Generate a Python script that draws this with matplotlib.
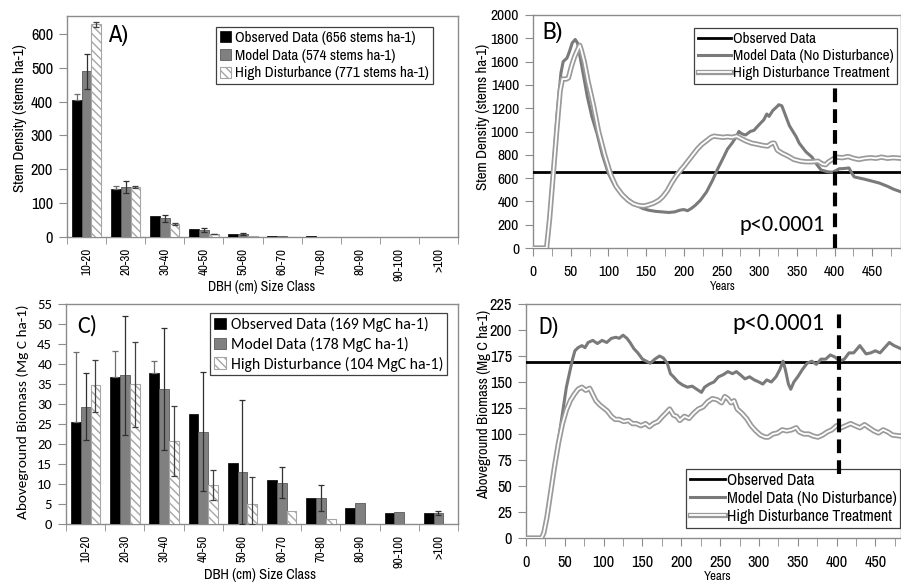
import numpy as np
import matplotlib
matplotlib.use('Agg')
import matplotlib.pyplot as plt
import matplotlib.patheffects as pe
from matplotlib import font_manager as fm

have = {f.name for f in fm.fontManager.ttflist}
ARIAL = [n for n in ['Arial Narrow', 'Liberation Sans Narrow', 'Archivo Narrow',
                     'PT Sans Narrow', 'Roboto Condensed', 'Arimo', 'Liberation Sans']
         if n in have][:1] + ['DejaVu Sans']
CAL = [n for n in ['Carlito', 'Calibri', 'Lato'] if n in have][:1] + ['DejaVu Sans']
plt.rcParams['font.family'] = ARIAL
plt.rcParams['hatch.linewidth'] = 1.0

# ---- data ----
size_classes = ['10-20', '20-30', '30-40', '40-50', '50-60', '60-70',
                '70-80', '80-90', '90-100', '>100']

# A) stem density by size class
dens_obs = [405, 141, 63, 25, 8, 4, 2, 1, 1, 1]
dens_obs_up = [18, 9, 0, 0, 0, 0, 0, 0, 0, 0]
dens_mod = [490, 148, 55, 21, 9, 4, 1, 1, 1, 1]
dens_mod_err = [52, 18, 10, 5, 3, 0, 0, 0, 0, 0]
dens_hd = [628, 147, 38, 9, 2, 1, 0.5, 0.5, 0.3, 0]
dens_hd_err = [8, 3, 2, 1, 0, 0, 0, 0, 0, 0]

# C) aboveground biomass by size class
bio_obs = [25.5, 36.7, 37.8, 27.5, 15.3, 11.0, 6.6, 4.0, 2.7, 2.7]
bio_obs_up = [17.5, 6.5, 3.0, 0, 0, 0, 0, 0, 0, 0]
bio_mod = [29.2, 37.2, 33.8, 23.1, 13.1, 10.3, 6.5, 5.3, 3.0, 2.7]
bio_mod_lo = [8.2, 14.9, 15.3, 14.8, 13.1, 3.8, 3.2, 0, 0, 0.5]
bio_mod_hi = [8.5, 14.8, 15.1, 14.9, 17.9, 4.0, 3.3, 0, 0, 0.6]
bio_hd = [34.7, 35.0, 20.7, 9.7, 5.0, 3.2, 1.3, 0, 0, 0]
bio_hd_lo = [6.7, 10.8, 8.7, 3.7, 5.0, 0, 0, 0, 0, 0]
bio_hd_hi = [6.3, 10.5, 8.7, 3.8, 6.7, 0, 0, 0, 0, 0]

# B) stem density through time
b_mod_yr = [0, 18, 22, 27, 32, 37, 40, 45, 48, 52, 56, 59, 63, 67, 72, 78, 85, 92,
            100, 107, 115, 122, 130, 137, 145, 153, 162, 171, 180, 188, 195, 200,
            205, 210, 215, 222, 230, 238, 245, 252, 258, 264, 270, 273, 277, 282,
            288, 293, 300, 306, 310, 313, 318, 323, 326, 330, 340, 349, 353, 362,
            370, 376, 382, 390, 397, 402, 406, 412, 419, 423, 426, 440, 459, 470,
            478, 488]
b_mod = [0, 0, 300, 700, 1150, 1500, 1600, 1630, 1680, 1760, 1790, 1760, 1620,
         1480, 1300, 1130, 980, 800, 640, 550, 480, 440, 400, 370, 340, 325, 315,
         310, 305, 310, 325, 330, 320, 340, 365, 410, 480, 580, 680, 770, 850, 900,
         960, 1000, 980, 970, 1000, 1010, 1060, 1100, 1150, 1130, 1180, 1210, 1230,
         1220, 1050, 955, 900, 825, 780, 720, 670, 655, 650, 665, 680, 682, 687,
         640, 610, 590, 558, 530, 505, 482]
b_hd_yr = [0, 18, 22, 27, 32, 36, 39, 44, 47, 51, 55, 59, 62, 64, 68, 73, 80, 87,
           95, 103, 110, 118, 126, 133, 140, 147, 153, 160, 167, 172, 178, 184,
           190, 196, 200, 206, 212, 218, 224, 230, 236, 240, 246, 252, 258, 264,
           270, 276, 282, 290, 298, 305, 311, 317, 320, 324, 330, 338, 346, 355,
           362, 370, 378, 384, 388, 392, 397, 402, 410, 418, 425, 432, 440, 448,
           455, 462, 470, 478, 488]
b_hd = [0, 0, 250, 650, 1050, 1350, 1450, 1450, 1460, 1560, 1640, 1700, 1740, 1700,
        1600, 1430, 1230, 1000, 800, 630, 530, 460, 410, 380, 365, 360, 370, 385,
        410, 440, 490, 560, 620, 670, 700, 750, 800, 850, 890, 920, 950, 960, 955,
        950, 955, 950, 960, 940, 920, 900, 890, 880, 875, 900, 900, 840, 815, 790,
        760, 745, 740, 740, 745, 720, 715, 740, 760, 780, 775, 785, 770, 760, 770,
        775, 770, 780, 770, 775, 770]
b_obs = 656

# D) aboveground biomass through time
d_mod_yr = [0, 20, 23, 27, 32, 37, 42, 47, 52, 57, 60, 63, 67, 72, 76, 80, 86, 92,
            98, 104, 110, 116, 120, 125, 130, 134, 139, 144, 150, 155, 160, 166,
            172, 177, 182, 186, 190, 196, 202, 208, 214, 220, 226, 230, 236, 242,
            248, 254, 260, 266, 271, 276, 282, 288, 294, 300, 305, 310, 316, 322,
            327, 331, 334, 338, 341, 345, 350, 356, 362, 368, 374, 380, 386, 392,
            398, 404, 410, 416, 422, 430, 438, 444, 450, 456, 462, 468, 474, 483]
d_mod = [0, 0, 5, 20, 45, 70, 95, 120, 145, 162, 172, 180, 183, 185, 183, 188, 190,
         187, 190, 188, 192, 193, 192, 195, 192, 188, 182, 178, 172, 170, 168, 172,
         175, 173, 168, 158, 155, 150, 147, 145, 146, 143, 140, 145, 148, 150, 155,
         157, 160, 158, 160, 157, 153, 155, 152, 150, 148, 152, 150, 155, 162, 170,
         162, 148, 143, 150, 155, 162, 168, 170, 167, 172, 172, 176, 174, 170, 172,
         178, 178, 185, 177, 178, 180, 178, 183, 188, 185, 182]
d_hd_yr = [0, 20, 23, 27, 32, 37, 42, 47, 52, 57, 62, 67, 72, 77, 82, 86, 90, 95,
           100, 105, 110, 115, 120, 126, 132, 137, 142, 148, 154, 159, 164, 170,
           176, 180, 185, 190, 194, 198, 204, 210, 216, 222, 228, 234, 240, 246,
           252, 256, 260, 264, 268, 272, 278, 284, 290, 296, 302, 308, 312, 318,
           324, 330, 336, 342, 348, 352, 358, 364, 370, 376, 382, 388, 394, 400,
           406, 412, 418, 424, 430, 436, 442, 448, 454, 460, 466, 472, 483]
d_hd = [0, 0, 5, 20, 45, 70, 92, 110, 123, 132, 138, 143, 145, 142, 144, 138, 132,
        128, 125, 122, 117, 114, 114, 112, 113, 110, 110, 108, 110, 107, 110, 112,
        117, 120, 124, 118, 117, 113, 117, 115, 120, 124, 126, 131, 134, 133, 130,
        136, 134, 130, 132, 124, 120, 115, 108, 103, 99, 97, 97, 100, 101, 104, 103,
        104, 106, 102, 100, 100, 98, 97, 99, 102, 104, 108, 106, 108, 110, 108, 106,
        109, 106, 103, 101, 104, 102, 99, 98]
d_obs = 169

W, H = 901, 584
fig = plt.figure(figsize=(W / 100, H / 100), dpi=100)
renderer = fig.canvas.get_renderer()


def fit(text, family, width_px):
    # font size that makes `text` about width_px pixels wide
    t = fig.text(0, 0, text, family=family, fontsize=10)
    w = t.get_window_extent(renderer).width
    t.remove()
    return 10 * width_px / w


def px_axes(l, t, r, b):
    return fig.add_axes([l / W, (H - b) / H, (r - l) / W, (b - t) / H])


def ftext(x, y, s, **kw):
    return fig.text(x / W, 1 - y / H, s, ha='center', va='center', **kw)


SPINE = '#8c8c8c'
HATCH_C = '#a6a6a6'


def style_spines(ax):
    for s in ax.spines.values():
        s.set_color(SPINE)
        s.set_linewidth(1.0)


def add_err(ax, x, y, lo, hi, color):
    idx = [i for i in range(len(y)) if lo[i] > 0 or hi[i] > 0]
    ax.errorbar([x[i] for i in idx], [y[i] for i in idx],
                yerr=[[lo[i] for i in idx], [hi[i] for i in idx]],
                fmt='none', ecolor=color, elinewidth=0.9, capsize=2.5,
                capthick=0.9, zorder=4)


def bar_panel(ax, obs, obs_up, mod, mod_lo, mod_hi, hd, hd_lo, hd_hi, ymax, ystep,
              labels, yfam, ysize, xsize):
    x = np.arange(len(size_classes)) + 0.5
    w = 0.25
    ax.bar(x - w, obs, w, color='black', edgecolor='black', lw=0.5, zorder=3,
           label=labels[0])
    ax.bar(x, mod, w, color='#808080', edgecolor='#5a5a5a', lw=0.6, zorder=3,
           label=labels[1])
    ax.bar(x + w, hd, w, color='white', edgecolor=HATCH_C, hatch='\\\\\\\\',
           lw=0.8, zorder=3, label=labels[2])
    zeros = [0] * len(obs)
    add_err(ax, x - w, obs, zeros, obs_up, '#6e6e6e')
    add_err(ax, x, mod, mod_lo, mod_hi, '#303030')
    add_err(ax, x + w, hd, hd_lo, hd_hi, '#404040')
    ax.set_xlim(0, len(size_classes))
    ax.set_ylim(0, ymax)
    ax.set_yticks(np.arange(0, ymax + 0.1, ystep))
    ax.set_xticks(x)
    ax.set_xticklabels(size_classes, rotation=90, family=ARIAL, fontsize=xsize)
    ax.set_xticks(np.arange(0, len(size_classes) + 1), minor=True)
    ax.tick_params(axis='x', which='major', length=0, pad=8)
    ax.tick_params(axis='x', which='minor', length=5, color=SPINE, direction='out')
    ax.tick_params(axis='y', length=6, color=SPINE, direction='out', pad=4)
    for t in ax.get_yticklabels():
        t.set_family(yfam)
        t.set_fontsize(ysize)
    style_spines(ax)


def line_panel(ax, obs, mod_yr, mod, hd_yr, hd, xmax, ymax, ystep, tsize):
    ax.axhline(obs, color='black', lw=2.0, zorder=3, label='Observed Data')
    ax.plot(mod_yr, mod, color='#7a7a7a', lw=2.2, zorder=4,
            label='Model Data (No Disturbance)')
    ax.plot(hd_yr, hd, color='white', lw=1.3, zorder=5,
            label='High Disturbance Treatment',
            path_effects=[pe.Stroke(linewidth=3.8, foreground='#9a9a9a'),
                          pe.Normal()])
    ax.set_xlim(0, xmax)
    ax.set_ylim(0, ymax)
    ax.set_yticks(np.arange(0, ymax + 0.1, ystep))
    ax.set_xticks(np.arange(0, 451, 50))
    ax.set_xticks(np.arange(0, xmax, 25), minor=True)
    ax.tick_params(axis='both', which='both', length=6, color=SPINE,
                   direction='out', labelsize=tsize, pad=4)
    ax.tick_params(axis='x', pad=6)
    style_spines(ax)


def legend(ax, loc, anchor, size, family, **kw):
    lg = ax.legend(loc=loc, bbox_to_anchor=anchor, prop=dict(family=family, size=size),
                   frameon=True, fancybox=False, framealpha=1, borderpad=0.25,
                   borderaxespad=0, **kw)
    lg.get_frame().set_edgecolor('#404040')
    lg.get_frame().set_linewidth(0.9)
    return lg


xtick_size = fit('10-20', ARIAL, 27)

# ---- A ----
axA = px_axes(67, 16, 458, 237)
bar_panel(axA, dens_obs, dens_obs_up, dens_mod, dens_mod_err, dens_mod_err,
          dens_hd, dens_hd_err, dens_hd_err, 653, 100,
          ['Observed Data (656 stems ha-1)', 'Model Data (574 stems ha-1)',
           'High Disturbance (771 stems ha-1)'],
          ARIAL, fit('600', ARIAL, 22), xtick_size)
legend(axA, 'upper right', (0.936, 0.950),
       fit('High Disturbance (771 stems ha-1)', ARIAL, 194), ARIAL,
       handlelength=0.75, handleheight=0.75, labelspacing=0.25, handletextpad=0.3)
axA.text(0.13, 0.91, 'A)', transform=axA.transAxes, fontsize=fit('A)', ARIAL, 20),
         ha='center', va='center')
ftext(20, 118, 'Stem Density (stems ha-1)', rotation=90,
      fontsize=fit('Stem Density (stems ha-1)', ARIAL, 148))
ftext(262, 287, 'DBH (cm) Size Class', fontsize=fit('DBH (cm) Size Class', ARIAL, 107))

# ---- B ----
axB = px_axes(533, 15, 901, 248)
line_panel(axB, b_obs, b_mod_yr, b_mod, b_hd_yr, b_hd, 488, 2000, 200,
           fit('2000', ARIAL, 28))
axB.plot([400, 400], [0, 1373], color='black', lw=3, ls=(0, (3.3, 1.7)), zorder=6)
legend(axB, 'upper right', (0.989, 0.944),
       fit('Model Data (No Disturbance)', ARIAL, 161), ARIAL,
       handlelength=2.2, labelspacing=0.2, handletextpad=0.1)
axB.text(0.053, 0.925, 'B)', transform=axB.transAxes, fontsize=fit('B)', ARIAL, 20),
         ha='center', va='center')
ftext(782, 225, 'p<0.0001', family=CAL, fontsize=fit('p<0.0001', CAL, 86))
ftext(483, 117, 'Stem Density (stems ha-1)', rotation=90,
      fontsize=fit('Stem Density (stems ha-1)', ARIAL, 147))
ftext(723, 287, 'Years', fontsize=fit('Years', ARIAL, 26))

# ---- C ----
axC = px_axes(66, 304, 458, 524)
bar_panel(axC, bio_obs, bio_obs_up, bio_mod, bio_mod_lo, bio_mod_hi,
          bio_hd, bio_hd_lo, bio_hd_hi, 55, 5,
          ['Observed Data (169 MgC ha-1)', 'Model Data (178 MgC ha-1)',
           'High Disturbance (104 MgC ha-1)'],
          CAL, fit('55', CAL, 15), xtick_size)
legend(axC, 'upper right', (0.972, 0.959),
       fit('High Disturbance (104 MgC ha-1)', CAL, 212), CAL,
       handlelength=0.75, handleheight=0.75, labelspacing=0.3, handletextpad=0.3)
axC.text(0.055, 0.9, 'C)', transform=axC.transAxes, family=CAL,
         fontsize=fit('C)', CAL, 20), ha='center', va='center')
ftext(23, 412, 'Aboveground Biomass (Mg C ha-1)', rotation=90, family=CAL,
      fontsize=fit('Aboveground Biomass (Mg C ha-1)', CAL, 215))
ftext(260, 575, 'DBH (cm) Size Class', fontsize=fit('DBH (cm) Size Class', ARIAL, 112))

# ---- D ----
axD = px_axes(526, 304, 901, 538)
line_panel(axD, d_obs, d_mod_yr, d_mod, d_hd_yr, d_hd, 483, 225, 25,
           fit('225', ARIAL, 22))
axD.plot([403, 403], [62, 220], color='black', lw=3, ls=(0, (3.3, 1.7)), zorder=6)
legend(axD, 'lower right', (0.998, 0.043),
       fit('Model Data (No Disturbance)', ARIAL, 170), ARIAL,
       handlelength=2.2, labelspacing=0.2, handletextpad=0.1)
axD.text(0.06, 0.9, 'D)', transform=axD.transAxes, fontsize=fit('D)', ARIAL, 20),
         ha='center', va='center')
ftext(778, 323, 'p<0.0001', family=CAL, fontsize=fit('p<0.0001', CAL, 93))
ftext(484, 404, 'Aboveground Biomass (Mg C ha-1)', rotation=90,
      fontsize=fit('Aboveground Biomass (Mg C ha-1)', ARIAL, 188))
ftext(718, 576, 'Years', fontsize=fit('Years', ARIAL, 28))

fig.savefig('out.png', dpi=100)
